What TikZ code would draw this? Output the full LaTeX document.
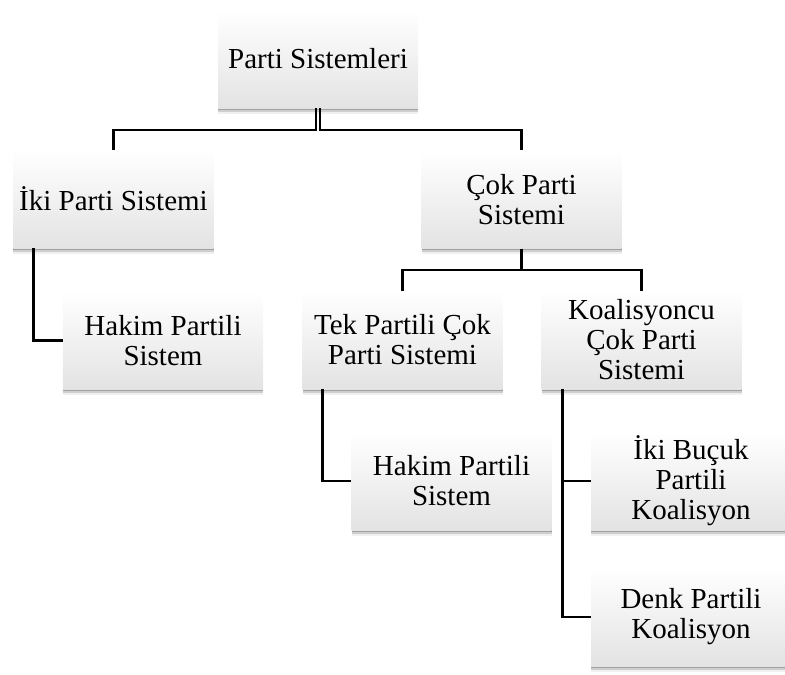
\documentclass[tikz,border=0pt]{standalone}
\usepackage{fontspec}
\setmainfont{Liberation Serif}
\usetikzlibrary{shadows}
\tikzset{
  box/.style={rectangle, minimum width=200bp, minimum height=98bp, inner sep=0pt,
    align=center, text=black,
    top color=white, middle color=white, bottom color=black!11,
    drop shadow={shadow xshift=0bp, shadow yshift=-1.5bp, opacity=0.22, fill=black},
    drop shadow={shadow xshift=0bp, shadow yshift=-3.5bp, opacity=0.14, fill=black},
    drop shadow={shadow xshift=0bp, shadow yshift=-5.5bp, opacity=0.06, fill=black},
    font=\fontsize{29bp}{30bp}\selectfont},
  conn/.style={draw=black, line width=2.6bp}
}
\begin{document}
\begin{tikzpicture}[x=1bp,y=-1bp]
\useasboundingbox (0,0) rectangle (785,675);
\node[box] (root) at (318,59) {Parti Sistemleri};
\node[box] (iki) at (113.5,199) {İki Parti Sistemi};
\node[box] (hakimA) at (163,340.5) {Hakim Partili\\Sistem};
\node[box] (cok) at (521.5,199.5) {Çok Parti\\Sistemi};
\node[box] (tek) at (402.5,340) {Tek Partili Çok\\Parti Sistemi};
\node[box] (koal) at (641.5,340) {Koalisyoncu\\Çok Parti\\Sistemi};
\node[box] (hakimB) at (451.5,481) {Hakim Partili\\Sistem};
\node[box] (bucuk) at (691,481) {İki Buçuk\\Partili\\Koalisyon};
\node[box] (denk) at (691,617) {Denk Partili\\Koalisyon};
\coordinate (busA) at (0,130);
\coordinate (busB) at (0,270);
\draw[conn] ([xshift=-2bp]root.south) |- (busA -| iki.north) -- (iki.north);
\draw[conn] ([xshift=2bp]root.south) |- (busA -| cok.north) -- (cok.north);
\draw[conn] ([xshift=20bp]iki.south west) |- (hakimA.west);
\draw[conn] (cok.south) |- (busB -| tek.north) -- (tek.north);
\draw[conn] (cok.south) |- (busB -| koal.north) -- (koal.north);
\draw[conn] ([xshift=20bp]tek.south west) |- (hakimB.west);
\draw[conn] ([xshift=21bp]koal.south west) |- (bucuk.west);
\draw[conn] ([xshift=21bp]koal.south west) |- (denk.west);
\end{tikzpicture}
\end{document}
